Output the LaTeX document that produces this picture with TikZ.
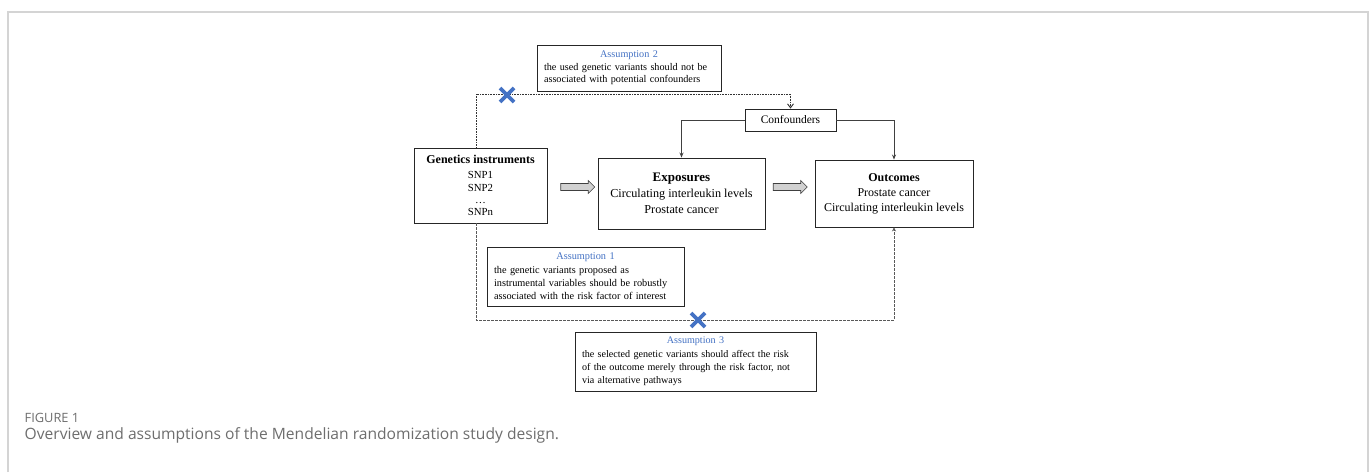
\documentclass[tikz,border=0pt]{standalone}
\usepackage{fontspec}
\setmainfont{Liberation Serif}
\newfontfamily\capfont{Open Sans}
\usetikzlibrary{shapes.arrows,arrows.meta,calc}
\definecolor{asblue}{HTML}{4472C4}
\definecolor{capgray}{HTML}{6E6E6E}
\definecolor{framegray}{HTML}{D4D4D4}
\begin{document}
\begin{tikzpicture}[x=1pt,y=-1pt,
  box/.style={draw=black!85, line width=0.9pt, inner sep=0pt, align=center},
  asbox/.style={draw=black!85, line width=0.9pt, inner sep=0pt, align=left},
  conn/.style={draw=black!75, line width=0.8pt},
  tip/.style={-{Stealth[length=5pt,width=4pt]}},
  dotline/.style={draw=black!80, line width=0.9pt, dash pattern=on 0.8pt off 0.8pt},
  dashline/.style={draw=black!65, line width=0.8pt, dash pattern=on 2.5pt off 1.5pt},
  blockarrow/.style={single arrow, draw=black!75, fill=black!18, line width=0.6pt,
    minimum height=34pt, inner xsep=0pt, inner ysep=3.2pt, single arrow head extend=3pt,
    single arrow head indent=0pt},
  xmark/.style={draw=asblue, line width=3.6pt},
  astitle/.style={text=asblue}]
\useasboundingbox (0,0) rectangle (1372,472);
\fill[white] (0,0) rectangle (1372,472);
\draw[framegray, line width=1.5pt] (8,472) -- (8,12) -- (1368,12) -- (1368,472);

% main nodes
\node[box, minimum width=133pt, minimum height=75pt,
  font=\fontsize{10.8}{12.4}\selectfont] (gen) at (480.5,185.5)
  {\textbf{\fontsize{12}{14}\selectfont Genetics instruments}\\[3pt]
   SNP1\\ SNP2\\ \ldots\\ SNPn};
\node[box, minimum width=167pt, minimum height=71pt,
  font=\fontsize{12.2}{16}\selectfont] (exp) at (681.5,193.5)
  {\textbf{\fontsize{13}{16}\selectfont Exposures}\\
   Circulating interleukin levels\\ Prostate cancer};
\node[box, minimum width=158pt, minimum height=67pt,
  font=\fontsize{12}{15}\selectfont] (out) at (894,193.5)
  {\textbf{Outcomes}\\ Prostate cancer\\ Circulating interleukin levels};
\node[box, minimum width=91pt, minimum height=22pt,
  font=\fontsize{11.5}{14}\selectfont] (conf) at (790.5,120) {Confounders};

% assumption boxes
\node[asbox, minimum width=184pt, minimum height=46pt, text width=170pt,
  font=\fontsize{10.2}{12.7}\selectfont] (as2) at (629,68)
  {\makebox[170pt][c]{\color{asblue}Assumption 2}\\
   the used genetic variants should not be\\ associated with potential confounders};
\node[asbox, minimum width=197pt, minimum height=59pt, text width=183pt,
  font=\fontsize{10.3}{13.3}\selectfont] (as1) at (585.5,276.5)
  {\makebox[183pt][c]{\color{asblue}Assumption 1}\\
   the genetic variants proposed as\\ instrumental variables should be robustly\\
   associated with the risk factor of interest};
\node[asbox, minimum width=241pt, minimum height=59pt, text width=227pt,
  font=\fontsize{10.1}{13.3}\selectfont] (as3) at (695.5,361.5)
  {\makebox[227pt][c]{\color{asblue}Assumption 3}\\
   the selected genetic variants should affect the risk\\
   of the outcome merely through the risk factor, not\\ via alternative pathways};

% block arrows
\node[blockarrow] (ba1) at (576,187) {};
\node[blockarrow] (ba2) at (788.5,187) {};

% confounders to exposures / outcomes
\draw[conn, tip] (conf.west) -| (exp.north);
\draw[conn, tip] (conf.east) -| (out.north);

% top dotted path (assumption 2)
\coordinate (vx) at (476,0);
\coordinate (topy) at (0,94);
\coordinate (boty) at (0,320);
\draw[dotline, -{Straight Barb[length=4pt,width=6pt]}]
  (gen.north -| vx) -- (vx |- topy) -- (conf.north |- topy) -- (conf.north);
% bottom dashed path (assumption 3)
\draw[dashline, -{Stealth[length=4pt,width=4pt]}]
  (gen.south -| vx) -- (vx |- boty) -- (out.south |- boty) -- (out.south);

% blue crosses
\coordinate (x2) at (507,95);
\coordinate (x3) at (698,320);
\draw[xmark] ($(x2)+(-7,-7)$) -- ($(x2)+(7,7)$) ($(x2)+(-7,7)$) -- ($(x2)+(7,-7)$);
\draw[xmark] ($(x3)+(-7,-7)$) -- ($(x3)+(7,7)$) ($(x3)+(-7,7)$) -- ($(x3)+(7,-7)$);

% caption
\node[anchor=west, inner sep=0pt, text=capgray] (figlab) at (24.5,418)
  {\capfont\fontsize{12.8}{15}\selectfont FIGURE 1};
\node[anchor=west, inner sep=0pt, text=capgray] (figcap) at (24.5,435)
  {\capfont\fontsize{15.6}{18}\selectfont Overview and assumptions of the Mendelian randomization study design.};
\end{tikzpicture}
\end{document}
